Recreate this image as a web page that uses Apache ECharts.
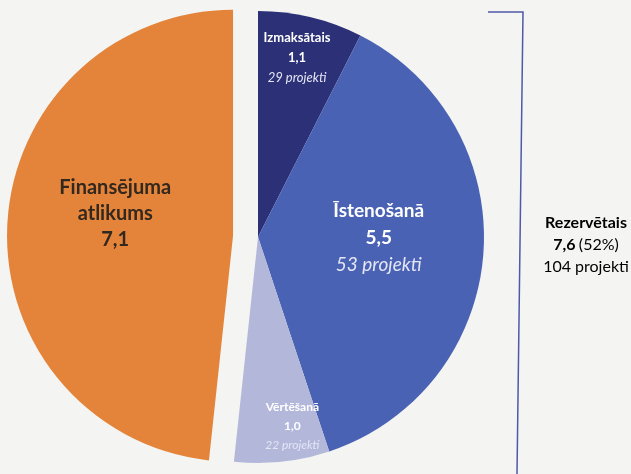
<!DOCTYPE html>
<html>
<head>
<meta charset="utf-8">
<script src="https://cdn.jsdelivr.net/npm/echarts@6/dist/echarts.min.js"></script>
<style>
html,body{margin:0;padding:0;background:#f4f4f2;}
#main{width:631px;height:474px;}
</style>
</head>
<body>
<div id="main"></div>
<script>
const categories = ['Izmaksātais', 'Īstenošanā', 'Vērtēšanā', 'Finansējuma atlikums'];
const values = [1.1, 5.5, 1.0, 7.1];
const projects = [29, 53, 22, null];
const reservedIdx = [0, 1, 2];

const colors = ['#2b3077', '#4a62b4', '#b3b8db', '#e3843a'];
const labelShift = [[12, -66], [5, -8], [22, 74], [-2, -16]];
const labelFont = [13, 19, 12, 20];
const labelLine = [20, 27, 19, 26];

const fmt = v => v.toFixed(1).replace('.', ',');
const total = values.reduce((a, b) => a + b, 0);
const reserved = reservedIdx.reduce((a, i) => a + values[i], 0);
const reservedProj = reservedIdx.reduce((a, i) => a + projects[i], 0);
const reservedPct = Math.round(reserved / total * 100);

const FONT = 'Lato, "Open Sans", sans-serif';

const data = categories.map((name, i) => {
  const fs = labelFont[i], lh = labelLine[i];
  let rich, text;
  if (projects[i] == null) {
    rich = {
      n: {fontFamily: FONT, fontSize: fs, fontWeight: 'bold', color: '#33281f', lineHeight: lh},
      v: {fontFamily: FONT, fontSize: fs, fontWeight: 'bold', color: '#33281f', lineHeight: lh}
    };
    text = name.split(' ').map(s => '{n|' + s + '}').join('\n') + '\n{v|' + fmt(values[i]) + '}';
  } else {
    rich = {
      n: {fontFamily: FONT, fontSize: fs, fontWeight: 'bold', color: '#ffffff', lineHeight: lh},
      v: {fontFamily: FONT, fontSize: fs, fontWeight: 'bold', color: '#ffffff', lineHeight: lh},
      p: {fontFamily: FONT, fontSize: fs, fontStyle: 'italic', color: '#e4e6f4', lineHeight: lh}
    };
    text = '{n|' + name + '}\n{v|' + fmt(values[i]) + '}\n{p|' + projects[i] + ' projekti}';
  }
  return {
    name: name,
    value: values[i],
    selected: projects[i] == null,
    itemStyle: {color: colors[i]},
    label: {formatter: text, rich: rich}
  };
});

const chart = echarts.init(document.getElementById('main'));
chart.setOption({
  backgroundColor: '#f4f4f2',
  animation: false,
  series: [{
    type: 'pie',
    center: [258, 237],
    radius: [0, 226],
    startAngle: 90,
    clockwise: true,
    selectedMode: 'single',
    selectedOffset: 25,
    emphasis: {disabled: true},
    label: {show: true, position: 'inside', align: 'center'},
    labelLine: {show: false},
    labelLayout: function (p) {
      const s = labelShift[p.dataIndex];
      return {dx: s[0], dy: s[1]};
    },
    data: data
  }],
  graphic: [
    {
      type: 'polyline',
      shape: {points: [[488, 12], [523, 12], [517, 474]]},
      style: {stroke: '#4f58a9', lineWidth: 1.5, fill: null}
    },
    {
      type: 'text',
      x: 586,
      y: 212,
      style: {
        text: '{b|Rezervētais}\n{b|' + fmt(reserved) + '} {r|(' + reservedPct + '%)}\n{r|' + reservedProj + ' projekti}',
        rich: {
          b: {fontFamily: FONT, fontSize: 16, fontWeight: 'bold', color: '#222222', lineHeight: 22},
          r: {fontFamily: FONT, fontSize: 16, color: '#333333', lineHeight: 22}
        },
        align: 'center'
      }
    }
  ]
});
</script>
</body>
</html>
